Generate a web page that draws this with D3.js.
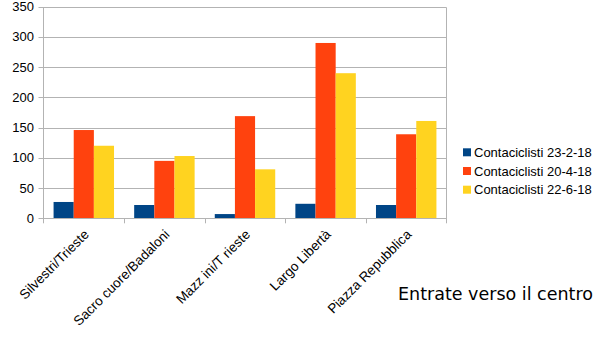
<!DOCTYPE html>
<html><head><meta charset="utf-8">
<script src="https://cdn.jsdelivr.net/npm/d3@7"></script>
<style>body{margin:0;background:#fff;}svg{display:block;font-family:"Liberation Sans",Arial,sans-serif;}</style>
</head><body>
<svg id="c" width="605" height="340"></svg>
<script>
const categories = ["Silvestri/Trieste","Sacro cuore/Badaloni","Mazz ini/T rieste","Largo Libertà","Piazza Repubblica"];
const seriesNames = ["Contaciclisti 23-2-18","Contaciclisti 20-4-18","Contaciclisti 22-6-18"];
const s1 = [27,22,7,24,22];
const s2 = [146,95,169,290,139];
const s3 = [120,103,81,240,161];
const yTicks = [0,50,100,150,200,250,300,350];
const colors = ["#004586","#ff420e","#ffd320"];
const title = "Entrate verso il centro";

const series = [s1,s2,s3];
const svg = d3.select("#c");
const L=43.5, R=446.5, T=6.7, B=218.3;
const x = d3.scaleBand().domain(categories).range([L,R]).paddingInner(0.25).paddingOuter(0.125);
const xb = d3.scaleBand().domain(categories).range([L,R]);
const y = d3.scaleLinear().domain([0,350]).range([B,T]);
const xs = d3.scaleBand().domain(d3.range(3)).range([0,x.bandwidth()]);

// grid
svg.append("g").selectAll("line").data(yTicks).join("line")
 .attr("x1",L-5).attr("x2",R).attr("y1",d=>Math.round(y(d))+0.5).attr("y2",d=>Math.round(y(d))+0.5)
 .attr("stroke","#b3b3b3").attr("stroke-width",1);
svg.append("line").attr("x1",R).attr("x2",R).attr("y1",Math.round(T)+0.5).attr("y2",B+5).attr("stroke","#b3b3b3");
svg.append("line").attr("x1",L).attr("x2",L).attr("y1",Math.round(T)+0.5).attr("y2",B+5).attr("stroke","#b3b3b3");
svg.append("g").selectAll("line").data(categories.slice(1)).join("line")
 .attr("x1",d=>Math.round(xb(d))+0.5).attr("x2",d=>Math.round(xb(d))+0.5).attr("y1",B).attr("y2",B+5).attr("stroke","#b3b3b3");

// bars
series.forEach((s,i)=>{
  svg.append("g").selectAll("rect").data(s).join("rect")
   .attr("x",(d,j)=>x(categories[j])+xs(i)).attr("width",xs.bandwidth())
   .attr("y",d=>y(d)).attr("height",d=>B-y(d)).attr("fill",colors[i]);
});
svg.append("line").attr("x1",L).attr("x2",R).attr("y1",Math.round(B)+0.5).attr("y2",Math.round(B)+0.5).attr("stroke","#b3b3b3");

// y labels
svg.append("g").selectAll("text").data(yTicks).join("text")
 .attr("x",34).attr("y",d=>y(d)+4.5).attr("text-anchor","end").attr("font-size",13).attr("fill","#000").text(d=>d);

// x labels
svg.append("g").selectAll("text").data(categories).join("text")
 .attr("transform",d=>`translate(${xb(d)+xb.bandwidth()/2+6},${B+17}) rotate(-45)`)
 .attr("text-anchor","end").attr("font-size",13.5).attr("fill","#000").text(d=>d);

// legend
const lg = svg.append("g");
seriesNames.forEach((n,i)=>{
  const yy = 148.3+i*18.7;
  lg.append("rect").attr("x",463).attr("y",yy).attr("width",8).attr("height",8).attr("fill",colors[i]);
  lg.append("text").attr("x",474).attr("y",yy+8.5).attr("font-size",13).attr("fill","#000").text(n);
});

svg.append("text").attr("x",398).attr("y",300).attr("font-size",17.5)
 .attr("font-family","'DejaVu Sans',sans-serif").attr("fill","#000").text(title);
</script>
</body></html>
